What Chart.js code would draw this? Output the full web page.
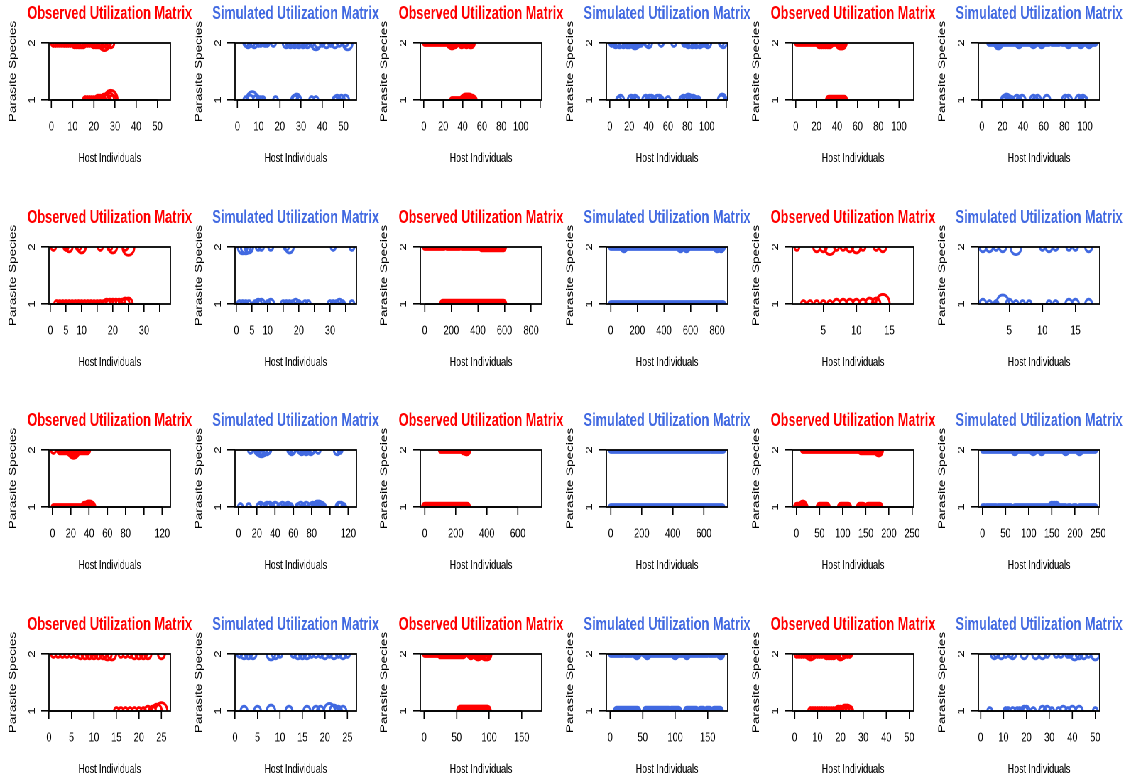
<!DOCTYPE html>
<html>
<head>
<meta charset="utf-8">
<script src="https://cdn.jsdelivr.net/npm/chart.js@4.4.1/dist/chart.umd.min.js"></script>
<style>
  html, body { margin: 0; padding: 0; background: #fff; overflow: hidden; width: 1131px; height: 782px; }
  /* the sheet is laid out wide and squeezed horizontally, like the exported R device */
  #sheet { position: absolute; left: 0; top: 0; width: 1593px; height: 782px; transform: scaleX(0.71); transform-origin: 0 0; }
  #sheet canvas { position: absolute; }
</style>
</head>
<body>
<div id="sheet"></div>
<script>
// ── Data ────────────────────────────────────────────────────────
// Each entry is [host individual, count]; runs are [first host, last host, count]
// for stretches where every host carries the parasite.

const titles = ['Observed Utilization Matrix', 'Simulated Utilization Matrix'];
const xTitle = 'Host Individuals';
const yTitle = 'Parasite Species';

const hostCounts = [54, 117, 110, 37, 846, 18, 124, 725, 244, 26, 174, 50];

const xTickSets = [
  [0, 10, 20, 30, 40, 50],
  [0, 20, 40, 60, 80, 100, 120],
  [0, 20, 40, 60, 80, 100],
  [0, 5, 10, 15, 20, 25, 30, 35],
  [0, 200, 400, 600, 800],
  [5, 10, 15],
  [0, 20, 40, 60, 80, 100, 120],
  [0, 200, 400, 600],
  [0, 50, 100, 150, 200, 250],
  [0, 5, 10, 15, 20, 25],
  [0, 50, 100, 150],
  [0, 10, 20, 30, 40, 50],
];
// tick labels that R dropped because they collided
const hiddenLabels = [[], [120], [], [15, 25, 35], [], [], [100], [], [], [], [], []];

const none = [];

// dataset 1
const obs01_sp2 = [[1,1],[2,1],[3,1],[4,1],[5,1],[6,1],[7,1],[8,1],[9,1],[10,1],[11,2],[12,2],[13,2],[14,2],[15,2],[16,1],[17,1],[18,1],[19,1],[20,2],[21,2],[22,2],[23,2],[24,2],[25,5],[26,2],[27,1],[28,2]];
const obs01_sp1 = [[16,1],[17,1],[18,1],[19,1],[20,1],[21,1],[22,2],[23,2],[24,2],[25,3],[26,3],[27,5],[28,8],[29,2]];
const sim01_sp2 = [[4,1],[5,2],[7,1],[8,2],[10,1],[11,1],[13,1],[14,1],[17,1],[23,2],[24,1],[25,2],[26,1],[27,2],[28,1],[29,2],[30,1],[31,2],[32,1],[33,2],[35,1],[37,4],[38,2],[40,1],[42,2],[44,1],[46,2],[48,1],[51,1],[52,4]];
const sim01_sp1 = [[4,1],[6,2],[7,6],[9,2],[10,1],[11,1],[12,1],[18,1],[27,2],[28,3],[29,1],[35,1],[37,1],[46,1],[47,2],[49,2],[51,2]];

// dataset 2
const obs02_sp2 = [[27,2],[28,2],[29,3],[30,2],[31,2],[32,2],[39,2],[44,2],[48,2],[49,2]];
const obs02_sp2_runs = [[1,26,1],[36,50,1]];
const obs02_sp1 = [[41,2],[42,2],[43,3],[44,3],[45,3],[46,3],[47,3],[48,2],[49,2],[50,2],[51,1],[52,1]];
const obs02_sp1_runs = [[29,40,1]];
const sim02_sp2 = [[2,1],[4,1],[6,2],[8,1],[10,2],[12,1],[14,2],[16,1],[18,2],[20,2],[22,1],[24,2],[26,3],[28,2],[30,1],[32,1],[38,1],[40,2],[53,1],[66,1],[77,1],[79,1],[81,2],[83,1],[85,2],[87,1],[89,2],[91,1],[93,2],[95,1],[97,1],[99,1],[101,2],[115,1],[117,2]];
const sim02_sp1 = [[9,1],[11,2],[22,2],[24,1],[26,2],[28,1],[37,2],[39,1],[41,2],[43,2],[45,1],[49,2],[51,2],[53,1],[60,1],[74,1],[76,2],[79,2],[81,3],[84,2],[86,2],[89,1],[91,1],[115,2],[116,3]];

// dataset 3
const obs03_sp2 = [[23,2],[25,2],[27,2],[29,2],[31,2],[33,2],[42,2],[43,3],[44,3],[45,3],[46,2]];
const obs03_sp2_runs = [[1,33,1],[36,47,1]];
const obs03_sp1_runs = [[32,47,2]];
const sim03_sp2 = [[15,2],[16,3],[17,2],[36,2],[50,2],[58,2],[84,2],[96,2],[104,2]];
const sim03_sp2_runs = [[7,65,1],[68,75,1],[78,110,1]];
const sim03_sp1 = [[21,1],[22,2],[24,3],[26,2],[28,1],[29,1],[34,2],[36,1],[39,2],[50,2],[52,1],[54,2],[63,2],[81,2],[84,2],[94,2],[96,1],[98,2],[100,1]];

// dataset 4
const obs04_sp2 = [[1,1],[5,1],[6,2],[9,1],[10,3],[16,1],[19,1],[20,3],[24,1],[25,6]];
const obs04_sp1 = [[2,1],[3,1],[4,1],[5,1],[6,1],[7,1],[8,1],[9,1],[10,1],[11,1],[12,1],[13,1],[14,1],[15,1],[16,1],[17,1],[18,2],[19,2],[20,2],[21,2],[22,2],[23,2],[24,3],[25,3]];
const sim04_sp2 = [[2,4],[3,4],[4,3],[7,1],[8,1],[11,1],[16,1],[17,3],[31,1],[37,1]];
const sim04_sp1 = [[1,1],[2,1],[3,1],[4,1],[6,1],[7,2],[8,2],[10,1],[11,2],[15,1],[16,1],[17,1],[18,1],[19,2],[20,1],[22,1],[23,1],[30,1],[31,1],[32,1],[33,2],[34,1],[37,1]];

// dataset 5
const obs05_sp2_runs = [[1,145,1],[168,262,1],[280,430,1],[430,590,2]];
const obs05_sp1_runs = [[137,592,2]];
const sim05_sp2 = [[100,2],[525,2],[570,2],[800,2],[830,2]];
const sim05_sp2_runs = [[1,846,1]];
const sim05_sp1_runs = [[1,846,1]];

// dataset 6
const obs06_sp2 = [[1,1],[4,2],[5,2],[6,5],[7,1],[8,1],[9,2],[10,3],[11,1],[13,1],[14,2]];
const obs06_sp1 = [[2,1],[3,1],[4,1],[5,1],[6,1],[7,2],[8,2],[9,2],[10,2],[11,2],[12,3],[13,3],[14,8]];
const sim06_sp2 = [[1,2],[2,2],[3,1],[4,2],[6,5],[10,1],[11,2],[12,1],[14,1],[15,1],[17,2]];
const sim06_sp1 = [[1,2],[2,1],[3,1],[4,7],[5,2],[6,1],[7,1],[8,1],[11,1],[12,1],[14,2],[15,2],[17,2]];

// dataset 7
const obs07_sp2 = [[1,1],[20,3],[22,4],[23,6],[25,3],[27,2]];
const obs07_sp2_runs = [[8,38,2]];
const obs07_sp1 = [[35,2],[37,2],[39,3],[40,3],[41,3],[42,2],[43,2],[44,1]];
const obs07_sp1_runs = [[1,34,1]];
const sim07_sp2 = [[13,1],[21,2],[23,3],[25,4],[27,3],[29,1],[31,2],[33,1],[56,1],[58,2],[60,1],[67,1],[69,2],[71,1],[74,2],[76,1],[79,2],[81,1],[87,1],[108,2],[111,1]];
const sim07_sp1 = [[2,1],[11,1],[22,1],[24,2],[27,1],[31,2],[34,2],[37,1],[40,2],[45,1],[48,2],[51,1],[54,2],[57,1],[65,1],[68,2],[71,1],[74,2],[78,1],[81,2],[84,2],[86,3],[88,3],[91,2],[93,1],[110,2],[112,2],[115,1]];

// dataset 8
const obs08_sp2 = [[268,2],[272,2]];
const obs08_sp2_runs = [[103,250,1],[250,274,2]];
const obs08_sp1_runs = [[1,274,2]];
const sim08_sp2_runs = [[1,545,1],[552,640,1],[650,725,1]];
const sim08_sp1_runs = [[1,720,1]];

// dataset 9
const obs09_sp2 = [[178,3]];
const obs09_sp2_runs = [[14,140,1],[140,180,2]];
const obs09_sp1 = [[14,3]];
const obs09_sp1_runs = [[1,18,2],[50,66,2],[96,112,2],[137,144,2],[155,180,2]];
const sim09_sp2 = [[70,2],[110,2],[128,2],[180,2],[210,2]];
const sim09_sp2_runs = [[1,120,1],[124,244,1]];
const sim09_sp1 = [[150,2],[155,2],[160,2]];
const sim09_sp1_runs = [[1,5,1],[9,30,1],[34,62,1],[70,180,1],[186,190,1],[197,202,1],[210,244,1]];

// dataset 10
const obs10_sp2 = [[1,1],[2,1],[3,1],[4,1],[5,1],[6,1],[7,2],[8,2],[9,2],[10,2],[11,2],[12,2],[13,3],[14,3],[16,1],[17,1],[18,1],[19,2],[20,2],[21,2],[22,2],[25,2]];
const obs10_sp1 = [[15,1],[16,1],[17,1],[18,1],[19,1],[20,1],[21,1],[22,2],[23,2],[24,4],[25,6]];
const sim10_sp2 = [[1,1],[2,2],[3,2],[4,2],[8,3],[9,2],[10,1],[13,1],[14,2],[15,2],[16,2],[17,1],[18,1],[19,1],[20,2],[21,1],[22,2],[23,1],[24,2],[25,1]];
const sim10_sp1 = [[2,2],[5,2],[8,3],[12,2],[16,2],[18,2],[19,2],[21,5],[22,3],[23,2],[24,2]];

// dataset 11
const obs11_sp2 = [[72,2],[80,2],[83,3],[87,2],[94,3],[97,3]];
const obs11_sp2_runs = [[1,24,1],[25,60,2],[68,99,1]];
const obs11_sp1_runs = [[56,97,3]];
const sim11_sp2 = [[41,2],[57,2],[100,2],[118,2],[170,2]];
const sim11_sp2_runs = [[1,20,1],[23,33,1],[38,45,1],[52,60,1],[62,120,1],[124,150,1],[153,162,1],[165,172,1]];
const sim11_sp1_runs = [[10,42,2],[55,90,2],[94,105,2],[118,132,2],[139,143,2],[149,153,2],[160,169,2]];

// dataset 12
const obs12_sp2 = [[1,1],[2,1],[3,1],[4,1],[5,1],[6,2],[7,3],[8,2],[9,1],[10,1],[11,1],[12,1],[13,1],[14,2],[15,2],[16,2],[17,2],[18,1],[19,1],[20,3],[21,2],[22,1],[23,1],[24,1]];
const obs12_sp1 = [[7,1],[8,1],[9,1],[10,1],[11,1],[12,1],[13,1],[14,1],[15,1],[16,1],[17,1],[18,1],[19,2],[20,2],[21,2],[22,3],[23,3],[24,2]];
const sim12_sp2 = [[6,2],[7,1],[9,2],[11,1],[13,1],[14,2],[19,2],[24,2],[27,2],[29,1],[33,1],[35,1],[38,1],[39,1],[41,3],[43,2],[45,2],[47,1],[50,3]];
const sim12_sp1 = [[4,1],[11,1],[12,1],[14,1],[16,1],[17,1],[19,2],[20,2],[23,1],[27,2],[29,2],[31,1],[34,1],[36,2],[38,1],[40,2],[43,2],[50,1]];

// panel order follows the figure: observed / simulated pairs, left to right, top to bottom
const panels = [
  { sp2: obs01_sp2, sp1: obs01_sp1, runs2: none, runs1: none },
  { sp2: sim01_sp2, sp1: sim01_sp1, runs2: none, runs1: none },
  { sp2: obs02_sp2, sp1: obs02_sp1, runs2: obs02_sp2_runs, runs1: obs02_sp1_runs },
  { sp2: sim02_sp2, sp1: sim02_sp1, runs2: none, runs1: none },
  { sp2: obs03_sp2, sp1: none, runs2: obs03_sp2_runs, runs1: obs03_sp1_runs },
  { sp2: sim03_sp2, sp1: sim03_sp1, runs2: sim03_sp2_runs, runs1: none },
  { sp2: obs04_sp2, sp1: obs04_sp1, runs2: none, runs1: none },
  { sp2: sim04_sp2, sp1: sim04_sp1, runs2: none, runs1: none },
  { sp2: none, sp1: none, runs2: obs05_sp2_runs, runs1: obs05_sp1_runs },
  { sp2: sim05_sp2, sp1: none, runs2: sim05_sp2_runs, runs1: sim05_sp1_runs },
  { sp2: obs06_sp2, sp1: obs06_sp1, runs2: none, runs1: none },
  { sp2: sim06_sp2, sp1: sim06_sp1, runs2: none, runs1: none },
  { sp2: obs07_sp2, sp1: obs07_sp1, runs2: obs07_sp2_runs, runs1: obs07_sp1_runs },
  { sp2: sim07_sp2, sp1: sim07_sp1, runs2: none, runs1: none },
  { sp2: obs08_sp2, sp1: none, runs2: obs08_sp2_runs, runs1: obs08_sp1_runs },
  { sp2: none, sp1: none, runs2: sim08_sp2_runs, runs1: sim08_sp1_runs },
  { sp2: obs09_sp2, sp1: obs09_sp1, runs2: obs09_sp2_runs, runs1: obs09_sp1_runs },
  { sp2: sim09_sp2, sp1: sim09_sp1, runs2: sim09_sp2_runs, runs1: sim09_sp1_runs },
  { sp2: obs10_sp2, sp1: obs10_sp1, runs2: none, runs1: none },
  { sp2: sim10_sp2, sp1: sim10_sp1, runs2: none, runs1: none },
  { sp2: obs11_sp2, sp1: none, runs2: obs11_sp2_runs, runs1: obs11_sp1_runs },
  { sp2: sim11_sp2, sp1: none, runs2: sim11_sp2_runs, runs1: sim11_sp1_runs },
  { sp2: obs12_sp2, sp1: obs12_sp1, runs2: none, runs1: none },
  { sp2: sim12_sp2, sp1: sim12_sp1, runs2: none, runs1: none },
];

// ── Layout ──────────────────────────────────────────────────────

const CELL_W = 261.7, CELL_H = 203.7;
const AXIS_W = 69, PLOT_W = 171, PLOT_H = 57;
const TITLE_H = 43, XAXIS_H = 70;
const CANVAS_W = AXIS_W * 2 + PLOT_W, CANVAS_H = 203;
const Y_TITLE_X = 18.3;

const RED = '#ff0000';
const BLUE = '#4169e1';
const FONT = "'Liberation Sans', Arial, Helvetica, sans-serif";

// symbol radius grows with the count, like cex in points()
const rad = c => 3.4 * Math.sqrt(c);

Chart.defaults.font.family = FONT;
Chart.defaults.color = '#000';

// box around the plot region, an axis line spanning only the outer ticks,
// and the rotated y label (allowed to run past the short plot height)
const frame = {
  id: 'frame',
  afterDraw(chart) {
    const { ctx, chartArea: a, scales: { x } } = chart;
    ctx.save();
    ctx.strokeStyle = '#000';
    ctx.lineWidth = 1.8;
    ctx.strokeRect(a.left, a.top, a.width, a.height);
    const t = x.ticks;
    const x0 = x.getPixelForValue(t[0].value);
    const x1 = x.getPixelForValue(t[t.length - 1].value);
    ctx.beginPath();
    ctx.moveTo(x0, a.bottom);
    ctx.lineTo(x1, a.bottom);
    ctx.stroke();

    ctx.translate(Y_TITLE_X, (a.top + a.bottom) / 2);
    ctx.rotate(-Math.PI / 2);
    ctx.fillStyle = '#000';
    ctx.font = '13.5px ' + FONT;
    ctx.textAlign = 'center';
    ctx.textBaseline = 'middle';
    ctx.fillText(yTitle, 0, 0);
    ctx.restore();
  },
};

function buildDatasets(p, color) {
  const out = [];
  [[2, p.sp2, p.runs2], [1, p.sp1, p.runs1]].forEach(([sp, pts, runs]) => {
    runs.forEach(([a, b, c]) => out.push({
      type: 'line',
      data: [{ x: a, y: sp }, { x: b, y: sp }],
      borderColor: color,
      borderWidth: 2 * rad(c) + 1,
      borderCapStyle: 'round',
      pointRadius: 0,
      fill: false,
      clip: 0,
    }));
    out.push({
      type: 'bubble',
      data: pts.map(([h, c]) => ({ x: h, y: sp, r: rad(c) })),
      borderColor: color,
      backgroundColor: 'rgba(0,0,0,0)',
      borderWidth: 2.9,
      clip: 0,
    });
  });
  return out;
}

function renderPanel(canvas, p, i) {
  const pair = Math.floor(i / 2);
  const observed = i % 2 === 0;
  const color = observed ? RED : BLUE;
  const n = hostCounts[pair];
  const ext = 0.04 * (n - 1);
  const ticks = xTickSets[pair];
  const hidden = hiddenLabels[pair];

  return new Chart(canvas, {
    type: 'bubble',
    data: { datasets: buildDatasets(p, color) },
    options: {
      responsive: false,
      devicePixelRatio: 2,
      animation: false,
      events: [],
      layout: { padding: { left: 0, right: 0, top: 0, bottom: CANVAS_H - TITLE_H - PLOT_H - XAXIS_H } },
      plugins: {
        legend: { display: false },
        tooltip: { enabled: false },
        title: {
          display: true,
          text: observed ? titles[0] : titles[1],
          color,
          font: { size: 18, weight: 'bold' },
          padding: { top: 3, bottom: 18.4 },
        },
      },
      scales: {
        x: {
          type: 'linear',
          position: 'bottom',
          min: 1 - ext,
          max: n + ext,
          afterBuildTicks: s => { s.ticks = ticks.map(v => ({ value: v })); },
          afterFit: s => { s.height = XAXIS_H; },
          border: { display: false },
          grid: { drawOnChartArea: false, tickLength: 8, color: '#000', lineWidth: 1.6 },
          ticks: {
            autoSkip: false, maxRotation: 0, padding: 11,
            font: { size: 13 },
            callback: v => (hidden.includes(v) ? '' : String(v)),
          },
          title: { display: true, text: xTitle, font: { size: 12.5 }, padding: { top: 0, bottom: 4 } },
        },
        y: {
          type: 'linear',
          position: 'left',
          min: 1,
          max: 2,
          afterBuildTicks: s => { s.ticks = [{ value: 1 }, { value: 2 }]; },
          afterFit: s => { s.width = AXIS_W; },
          border: { display: false },
          grid: { drawOnChartArea: false, tickLength: 11, color: '#000', lineWidth: 1.6 },
          ticks: {
            minRotation: 90, maxRotation: 90, crossAlign: 'center', padding: 9,
            font: { size: 13 },
            callback: v => String(v),
          },
        },
        // empty right-hand axis keeps the title centred over the plot box
        y2: {
          type: 'linear',
          position: 'right',
          afterFit: s => { s.width = AXIS_W; },
          grid: { display: false },
          border: { display: false },
          ticks: { display: false },
        },
      },
    },
    plugins: [frame],
  });
}

const sheet = document.getElementById('sheet');
panels.forEach((p, i) => {
  const row = Math.floor(i / 6), col = i % 6;
  const cv = document.createElement('canvas');
  cv.style.left = (col * CELL_W) + 'px';
  cv.style.top = (row * CELL_H) + 'px';
  cv.style.width = CANVAS_W + 'px';
  cv.style.height = CANVAS_H + 'px';
  cv.width = CANVAS_W;
  cv.height = CANVAS_H;
  sheet.appendChild(cv);
  renderPanel(cv, p, i);
});
</script>
</body>
</html>
